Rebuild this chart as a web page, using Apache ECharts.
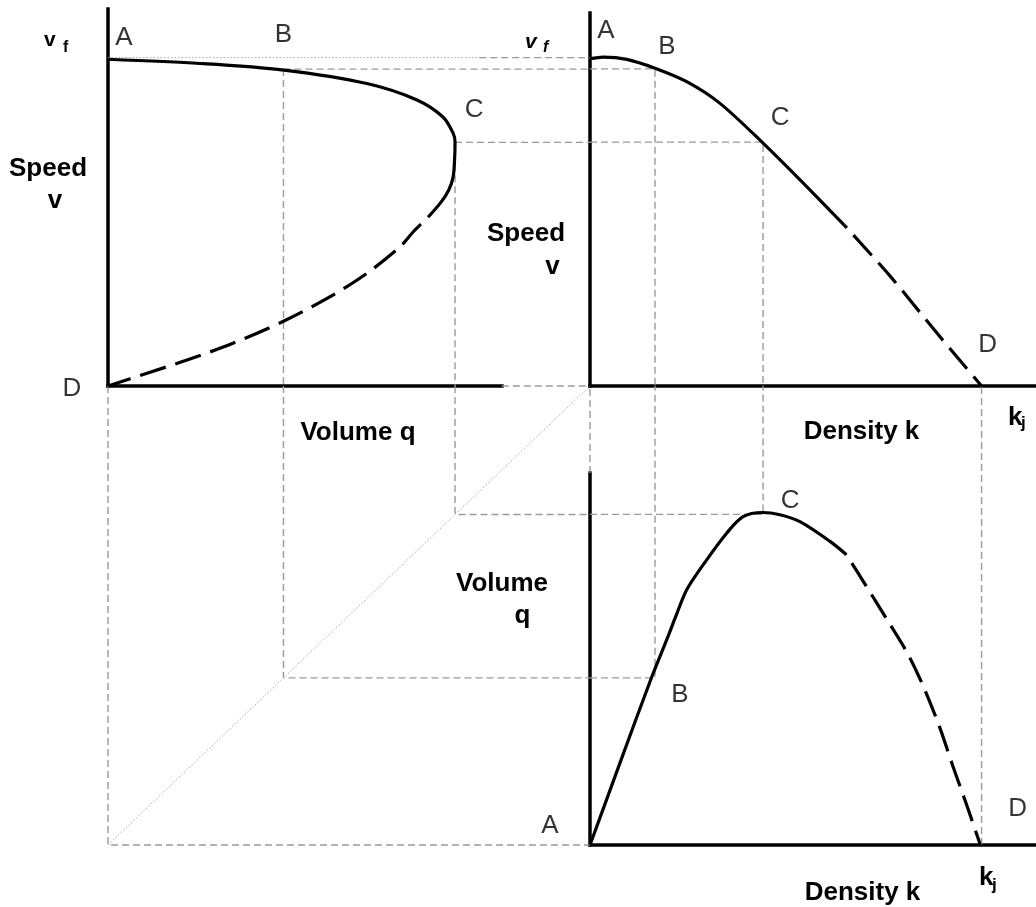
<!DOCTYPE html>
<html>
<head>
<meta charset="utf-8">
<script src="https://cdn.jsdelivr.net/npm/echarts@6/dist/echarts.min.js"></script>
<style>
html,body{margin:0;padding:0;background:#fff;}
#chart{width:1036px;height:907px;}
</style>
</head>
<body>
<div id="chart"></div>
<script>
// ---------- characteristic values (schematic units) ----------
const VF = 100;      // free-flow speed v_f
const KJ = 100;      // jam density k_j
const Q_EDGE = 100;  // q where the q-q mirror quadrant meets the right-hand panels
const kB = 16.6, vB = 96.5, qB = 36.4;   // point B
const kC = 44.2, vC = 74.2, qC = 72;     // point C (capacity)

// ---------- axis ranges ----------
const Q_AXIS_TL = 81.7, V_AXIS_TL = 114.8;
const K_AXIS = 113.9, V_AXIS_TR = 113.5;
const Q_AXIS_BR = 81.0;
const Q_VF_DOTTED_END = 77;  // the v_f guide turns from dotted to dashed here

// ---------- curves ----------
// speed-volume  [q, v]
const svSolid = [[0,99.5],[19.1,98.2],[36.5,96.2],[53.7,92.1],[64.1,87.1],[69.5,81.9],[71.6,77.0],[72.0,74.3],[71.9,68.8],[71.6,63.6],[70.7,59.7],[69.1,56.0],[66.4,51.4]];
const svDashed = [[66.4,51.4],[63.3,46.9],[60.6,42.4],[53.7,34.3],[46.1,27.2],[36.5,19.8],[25.9,13.0],[16.4,7.9],[8.1,3.9],[0,0]];
// speed-density  [k, v]
const skSolid = [[0,99.6],[3.4,100.1],[9.4,99.4],[16.6,96.7],[24.7,92.6],[33.2,86.0],[44.2,73.9],[54.9,61.2],[65.6,48.1]];
const skDashed = [[65.6,48.1],[76.6,33.5],[88.6,16.1],[100,0]];
// volume-density [k, q]
const qkSolid = [[0,0],[7.8,18.2],[15.6,36.2],[19.6,44.7],[22.1,50.2],[24.7,55.6],[29.8,62.1],[34.9,67.9],[39.1,71.5],[44.1,72.4],[48.5,71.9],[53.6,70.4],[61.3,66.1],[65.5,63.2]];
const qkDashed = [[65.5,63.2],[70.6,56.3],[76.2,48.6],[81.3,41.4],[85.5,33.8],[89.4,25.4],[92.7,17.1],[96.2,8.7],[99.7,0]];

// ---------- point labels ----------
const svPoints = [['A',0,VF],['B',qB,vB],['C',qC,vC],['D',0,0]];
const skPoints = [['A',0,VF],['B',kB,vB],['C',kC,vC],['D',KJ,0]];
const qkPoints = [['A',0,0],['B',kB,qB],['C',kC,qC],['D',KJ,0]];

// ---------- styles ----------
const FONT = '"Liberation Sans", Arial, Helvetica, sans-serif';
const AXIS_W = 3.5, CURVE_W = 3.2;
const GUIDE = {color:'#9a9a9a', width:1.4, type:[7,4]};
const DOTTED = {color:'#a8a8a8', width:1, type:[1.5,2]};
const DASH = [27,10];

const series = [];
function guide(grid, pts, style){
  series.push({type:'line', xAxisIndex:grid, yAxisIndex:grid, data:pts, showSymbol:false, symbol:'none',
    clip:false, silent:true, z:1, lineStyle:Object.assign({}, style || GUIDE)});
}
function curve(grid, pts, dashed){
  series.push({type:'line', xAxisIndex:grid, yAxisIndex:grid, data:pts, showSymbol:false, symbol:'none',
    smooth:0.3, clip:false, silent:true, z:5,
    lineStyle:{color:'#000', width:CURVE_W, type: dashed ? DASH : 'solid', dashOffset: dashed ? 27 : 0, cap:'butt', join:'round'}});
}
function letters(grid, pts, offsets){
  series.push({type:'scatter', xAxisIndex:grid, yAxisIndex:grid, symbolSize:0, clip:false, silent:true, z:6,
    itemStyle:{color:'#000'},
    data: pts.map((p,i)=>({name:p[0], value:[p[1],p[2]],
      label:{show:true, position:[0,0], formatter:p[0], offset:offsets[i], color:'#000',
        fontFamily:FONT, fontSize:26, fontWeight:'normal', align:'center', verticalAlign:'middle'}}))});
}

// grid 0: speed-volume (top-left), spans to the right-hand panels
guide(0, [[0,VF],[Q_VF_DOTTED_END,VF]], DOTTED);
guide(0, [[Q_VF_DOTTED_END,VF],[Q_EDGE,VF]]);
guide(0, [[qB,vB],[Q_EDGE,vB]]);
guide(0, [[qC,vC],[Q_EDGE,vC]]);
guide(0, [[qB,vB],[qB,0]]);
guide(0, [[qC,vC],[qC,0]]);
guide(0, [[Q_AXIS_TL,0],[Q_EDGE,0]]);
curve(0, svSolid, false);
curve(0, svDashed, true);
letters(0, svPoints, [[16,-20],[0,-34],[19,-33],[-36,3]]);

// grid 1: speed-density (top-right)
guide(1, [[0,vB],[kB,vB],[kB,0]]);
guide(1, [[0,vC],[kC,vC],[kC,0]]);
curve(1, skSolid, false);
curve(1, skDashed, true);
letters(1, skPoints, [[16,-27],[12,-22],[17,-24],[6,-41]]);

// grid 2: volume-density (bottom-right)
guide(2, [[0,qB],[kB,qB],[kB,Q_EDGE]]);
guide(2, [[0,qC],[kC,qC],[kC,Q_EDGE]]);
guide(2, [[KJ,0],[KJ,Q_EDGE]]);
guide(2, [[0,Q_AXIS_BR],[0,Q_EDGE]]);
curve(2, qkSolid, false);
curve(2, qkDashed, true);
letters(2, qkPoints, [[-40,-19],[25,17],[27,-14],[36,-36]]);

// grid 3: q-q mirror quadrant (bottom-left)
guide(3, [[0,Q_EDGE],[0,0],[Q_EDGE,0]]);
guide(3, [[qB,Q_EDGE],[qB,qB],[Q_EDGE,qB]]);
guide(3, [[qC,Q_EDGE],[qC,qC],[Q_EDGE,qC]]);
guide(3, [[0,0],[Q_EDGE,Q_EDGE]], DOTTED);

function axis(max, showLine, grid){
  return {gridIndex:grid, type:'value', min:0, max:max,
    axisLine:{show:showLine, onZero:false, lineStyle:{color:'#000', width:AXIS_W, cap:'square'}},
    axisTick:{show:false}, axisLabel:{show:false}, splitLine:{show:false}};
}

function txt(text, x, y, size, opts){
  opts = opts || {};
  return {type:'text', x:x, y:y, silent:true, z:10, style:{text:text, font:(opts.italic?'italic ':'')+'bold '+size+'px '+FONT,
    fill:'#000', align:opts.align||'center', textAlign:opts.align||'center', verticalAlign:'middle', textVerticalAlign:'middle'}};
}

const G = {outerBoundsMode:'none', containLabel:false};
const option = {
  animation:false,
  backgroundColor:'#fff',
  grid:[
    Object.assign({left:108, top:9, width:482, height:377}, G),   // 0: speed-volume plotting area
    Object.assign({left:590, top:13, width:446, height:373}, G),  // 1: speed-density
    Object.assign({left:590, top:473, width:446, height:372}, G), // 2: volume-density
    Object.assign({left:108, top:386, width:482, height:459}, G), // 3: q-q mirror
    Object.assign({left:108, top:9, width:394, height:377}, G)    // 4: speed-volume axis frame
  ],
  xAxis:[
    axis(Q_EDGE,false,0),
    axis(K_AXIS,true,1),
    axis(K_AXIS,true,2),
    axis(Q_EDGE,false,3),
    axis(Q_AXIS_TL,true,4)
  ],
  yAxis:[
    axis(V_AXIS_TL,false,0),
    axis(V_AXIS_TR,true,1),
    axis(Q_AXIS_BR,true,2),
    axis(Q_EDGE,false,3),
    axis(V_AXIS_TL,true,4)
  ],
  series:series,
  graphic:[
    txt('v', 44, 40.6, 21, {align:'left'}),
    txt('f', 63, 47.4, 16, {align:'left'}),
    txt('Speed', 48, 168.5, 26),
    txt('v', 55, 200.7, 26),
    txt('v', 525, 42.6, 21, {align:'left', italic:true}),
    txt('f', 543, 47.4, 16, {align:'left', italic:true}),
    txt('Speed', 526, 233.9, 26),
    txt('v', 552.5, 266.9, 26),
    txt('Volume q', 358, 432.9, 26),
    txt('Density k', 861.5, 431.9, 26),
    txt('k', 1008, 417.9, 26, {align:'left'}),
    txt('j', 1021, 423.4, 17, {align:'left'}),
    txt('Volume', 502, 583.9, 26),
    txt('q', 522.5, 615.9, 26),
    txt('Density k', 862.5, 892.9, 26),
    txt('k', 979, 877.9, 26, {align:'left'}),
    txt('j', 992, 885.4, 17, {align:'left'})
  ]
};

const chart = echarts.init(document.getElementById('chart'), null, {renderer:'canvas'});
chart.setOption(option);
</script>
</body>
</html>
